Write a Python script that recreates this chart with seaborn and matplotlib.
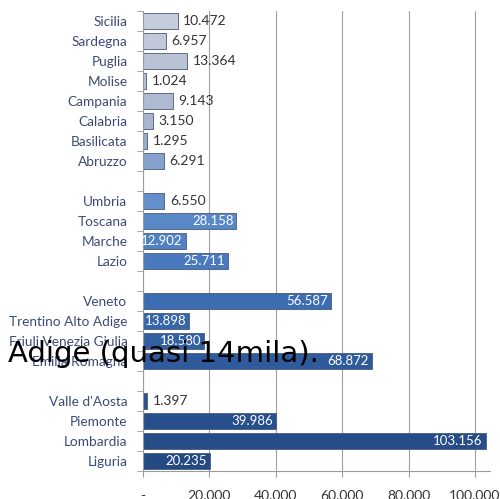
import numpy as np
import pandas as pd
import matplotlib
matplotlib.use("Agg")
import matplotlib.pyplot as plt
import seaborn as sns
from matplotlib.colors import LinearSegmentedColormap, to_hex
from matplotlib.ticker import FixedLocator

# data: regions top to bottom, blank strings are the gaps between groups
regions = ["Sicilia", "Sardegna", "Puglia", "Molise", "Campania", "Calabria",
           "Basilicata", "Abruzzo", " ",
           "Umbria", "Toscana", "Marche", "Lazio", "  ",
           "Veneto", "Trentino Alto Adige", "Friuli Venezia Giulia", "Emilia Romagna", "   ",
           "Valle d'Aosta", "Piemonte", "Lombardia", "Liguria"]
values = [10472, 6957, 13364, 1024, 9143, 3150, 1295, 6291, np.nan,
          6550, 28158, 12902, 25711, np.nan,
          56587, 13898, 18580, 68872, np.nan,
          1397, 39986, 103156, 20235]
value_labels = ["10.472", "6.957", "13.364", "1.024", "9.143", "3.150", "1.295", "6.291", "",
                "6.550", "28.158", "12.902", "25.711", "",
                "56.587", "13.898", "18.580", "68.872", "",
                "1.397", "39.986", "103.156", "20.235"]
xticks = [0, 20000, 40000, 60000, 80000, 100000]
xtick_labels = ["-", "20.000", "40.000", "60.000", "80.000", "100.000"]
overlay = "Adige (quasi 14mila)."

df = pd.DataFrame({"Regione": regions, "Valore": values})
bars = df.dropna()

# colour goes from grey-lilac at the top to dark blue at the bottom
cmap = LinearSegmentedColormap.from_list(
    "grad", [(0.0, "#c5ccdb"), (0.22, "#a9b6cf"), (0.36, "#7598cb"),
             (0.42, "#5f8dcb"), (0.6, "#3f72b8"), (0.8, "#2c5697"), (1.0, "#244a84")])
palette = {r: to_hex(cmap(i / (len(regions) - 1))) for i, r in enumerate(regions)}

sns.set_style("white")
fig = plt.figure(figsize=(5.0, 4.99), dpi=100)
ax = fig.add_axes([0.2854, 0.0561, 0.6946, 0.9219])

sns.barplot(data=bars, x="Valore", y="Regione", order=regions, hue="Regione",
            palette=palette, legend=False, width=0.78, saturation=1,
            edgecolor="#4a5a78", linewidth=0.6, ax=ax)

ax.set_xlim(0, 104500)
ax.set_ylim(len(regions) - 0.5, -0.5)
ax.set_xlabel("")
ax.set_ylabel("")

# value labels: outside for the light or very short bars, inside (white) for the rest
for i, (v, lab) in enumerate(zip(values, value_labels)):
    if np.isnan(v):
        continue
    if i <= 9 or v < 5000:
        ax.annotate(lab, (v, i), xytext=(4, 0), textcoords="offset points",
                    ha="left", va="center", fontsize=10, family="Lato", color="#333333")
    else:
        ax.annotate(lab, (v, i), xytext=(-2, 0), textcoords="offset points",
                    ha="right", va="center", fontsize=9.5, family="Lato", color="white")

ax.xaxis.grid(True, color="#a0a0a0", linewidth=0.8)
ax.set_axisbelow(True)
ax.set_xticks(xticks)
ax.set_xticklabels(xtick_labels, family="Lato", fontsize=10, color="#333333")
ax.tick_params(axis="x", length=4, color="#9a9a9a", pad=10, direction="out", bottom=True)

ax.set_yticks(range(len(regions)))
ax.set_yticklabels(regions, family="Lato", fontsize=9.8, color="#3c4a78")
ax.tick_params(axis="y", which="major", length=0, pad=11)
ax.yaxis.set_minor_locator(FixedLocator(np.arange(-0.5, len(regions), 1.0)))
ax.tick_params(axis="y", which="minor", length=4, color="#9a9a9a", direction="out", left=True)

for s in ["top", "right"]:
    ax.spines[s].set_visible(False)
ax.spines["left"].set_color("#9a9a9a")
ax.spines["bottom"].set_color("#9a9a9a")

fig.text(0.016, 1 - 362 / 499, overlay, fontsize=21, family="DejaVu Sans",
         color="black", va="baseline", zorder=10)

fig.savefig("out.png", dpi=100)
